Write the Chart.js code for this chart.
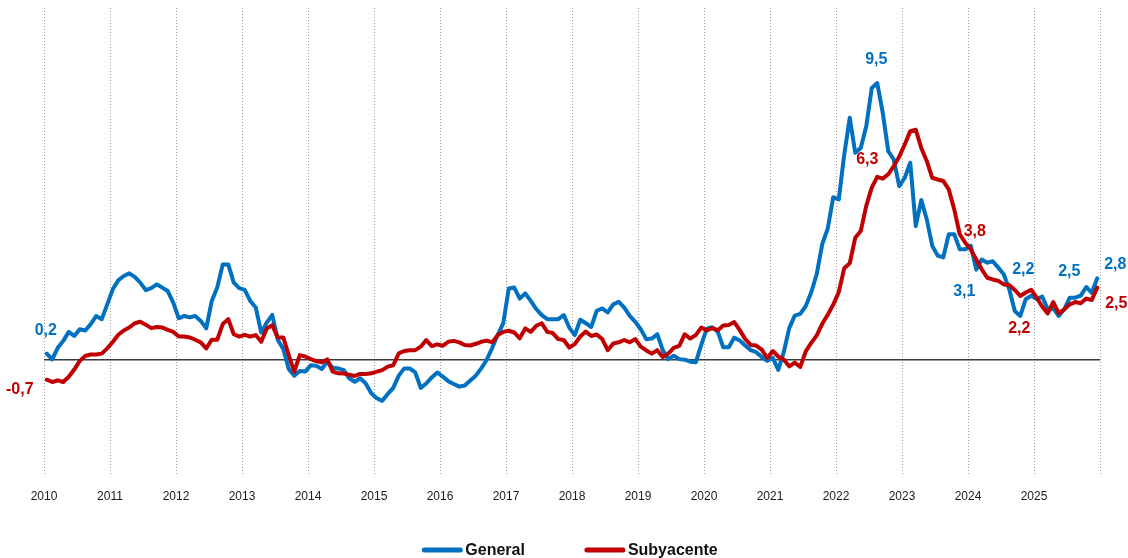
<!DOCTYPE html>
<html>
<head>
<meta charset="utf-8">
<script src="https://cdn.jsdelivr.net/npm/chart.js@4.4.1/dist/chart.umd.min.js"></script>
<style>
html,body{margin:0;padding:0;background:#ffffff;}
canvas{display:block;}
</style>
</head>
<body>
<canvas id="chart" width="1128" height="558"></canvas>
<script>
// ---- data ----
const yearTicks = [2010,2011,2012,2013,2014,2015,2016,2017,2018,2019,2020,2021,2022,2023,2024,2025];
const seriesNames = ['General', 'Subyacente'];

const generalValues = [
  0.2, 0.0, 0.4, 0.64, 0.95, 0.81, 1.04, 1.0, 1.22, 1.5, 1.39, 1.9,
  2.42, 2.73, 2.88, 2.97, 2.85, 2.65, 2.39, 2.46, 2.59, 2.48, 2.36, 1.96,
  1.42, 1.5, 1.45, 1.5, 1.33, 1.07, 2.02, 2.48, 3.28, 3.28, 2.65, 2.46,
  2.4, 2.02, 1.79, 0.93, 1.27, 1.54, 0.68, 0.36, -0.33, -0.56, -0.4, -0.42,
  -0.2, -0.22, -0.33, -0.08, -0.29, -0.31, -0.37, -0.65, -0.77, -0.65, -0.83, -1.17,
  -1.34, -1.43, -1.19, -0.98, -0.56, -0.31, -0.31, -0.45, -0.98, -0.83, -0.62, -0.45,
  -0.59, -0.75, -0.85, -0.94, -0.9, -0.73, -0.56, -0.31, -0.01, 0.4, 0.85, 1.25,
  2.45, 2.48, 2.1, 2.28, 2.02, 1.74, 1.53, 1.39, 1.39, 1.39, 1.53, 1.1,
  0.84, 1.37, 1.25, 1.12, 1.68, 1.76, 1.62, 1.9, 1.99, 1.79, 1.5, 1.3,
  1.04, 0.7, 0.72, 0.87, 0.32, 0.01, 0.13, 0.01, -0.01, -0.08, -0.1, 0.5,
  1.06, 1.11, 0.96, 0.42, 0.42, 0.75, 0.65, 0.48, 0.32, 0.25, 0.08, -0.05,
  0.06, -0.36, 0.25, 1.08, 1.51, 1.57, 1.84, 2.32, 2.95, 3.98, 4.52, 5.6,
  5.52, 7.07, 8.34, 7.13, 7.3, 8.05, 9.37, 9.54, 8.51, 7.19, 6.9, 5.98,
  6.27, 6.79, 4.6, 5.5, 4.84, 3.92, 3.58, 3.52, 4.32, 4.32, 3.8, 3.8,
  3.93, 3.1, 3.45, 3.34, 3.39, 3.17, 2.94, 2.42, 1.67, 1.5, 2.08, 2.2,
  2.08, 2.17, 1.73, 1.76, 1.5, 1.73, 2.13, 2.13, 2.2, 2.5, 2.3, 2.8
];

const coreValues = [
  -0.7, -0.78, -0.72, -0.78, -0.6, -0.35, -0.05, 0.12, 0.17, 0.17, 0.2, 0.38,
  0.6, 0.85, 1.0, 1.1, 1.25, 1.3, 1.2, 1.08, 1.12, 1.1, 1.02, 0.95,
  0.79, 0.79, 0.76, 0.68, 0.59, 0.38, 0.68, 0.68, 1.22, 1.39, 0.87, 0.79,
  0.85, 0.79, 0.84, 0.61, 1.07, 1.18, 0.76, 0.76, 0.15, -0.42, 0.15, 0.1,
  0.01, -0.06, -0.1, 0.0, -0.42, -0.48, -0.49, -0.53, -0.57, -0.5, -0.5, -0.48,
  -0.42, -0.37, -0.25, -0.2, 0.21, 0.29, 0.32, 0.32, 0.44, 0.67, 0.46, 0.52,
  0.47, 0.61, 0.64, 0.59, 0.5, 0.48, 0.54, 0.61, 0.65, 0.59, 0.84, 0.95,
  0.99, 0.93, 0.73, 1.07, 0.95, 1.16, 1.25, 0.95, 0.91, 0.7, 0.67, 0.41,
  0.53, 0.79, 0.96, 0.81, 0.86, 0.7, 0.32, 0.55, 0.59, 0.67, 0.59, 0.7,
  0.44, 0.31, 0.2, 0.32, 0.08, 0.2, 0.4, 0.47, 0.87, 0.72, 0.84, 1.1,
  1.0, 1.08, 1.01, 1.17, 1.19, 1.29, 1.01, 0.7, 0.5, 0.48, 0.34, 0.05,
  0.29, 0.1, 0.0, -0.24, -0.11, -0.26, 0.28, 0.57, 0.83, 1.23, 1.54, 1.89,
  2.32, 3.15, 3.32, 4.2, 4.43, 5.3, 5.93, 6.3, 6.24, 6.39, 6.67, 7.0,
  7.42, 7.88, 7.93, 7.3, 6.85, 6.27, 6.21, 6.16, 5.87, 5.18, 4.32, 4.03,
  3.8, 3.45, 3.11, 2.82, 2.76, 2.71, 2.59, 2.57, 2.4, 2.19, 2.31, 2.4,
  2.13, 1.82, 1.59, 1.98, 1.59, 1.73, 1.9, 1.98, 1.94, 2.1, 2.05, 2.48
];

// labelled points: which series and which month index
const labelSeries = [0, 1, 0, 1, 1, 0, 0, 1, 0, 0, 1];
const labelIndex  = [0, 0, 151, 151, 168, 169, 179, 177, 189, 191, 191];

// ---- build ----
const monthPositions = [];
yearTicks.forEach(y => { for (let m = 0; m < 12; m++) monthPositions.push(y + (m + 0.5) / 12); });
const toPoints = vals => vals.map((v, i) => ({ x: monthPositions[i], y: v }));

const BLUE = '#0070C0';
const RED = '#C00000';
const FONT = '"Liberation Sans", Arial, sans-serif';

const labelOffsets = [[-1,-23],[-27,10],[-1,-23],[-10,-17],[4,-18],[-12,22],[-8,-26],[-1,33],[-17,-15],[18,-14],[19,16]];

const pointLabels = {
  id: 'pointLabels',
  afterDatasetsDraw(chart) {
    const ctx = chart.ctx;
    ctx.save();
    ctx.font = 'bold 16px ' + FONT;
    ctx.textAlign = 'center';
    ctx.textBaseline = 'middle';
    labelSeries.forEach((s, k) => {
      const ds = chart.data.datasets[s];
      const el = chart.getDatasetMeta(s).data[labelIndex[k]];
      const v = ds.data[labelIndex[k]].y;
      ctx.fillStyle = ds.borderColor;
      ctx.fillText(v.toFixed(1).replace('.', ','), el.x + labelOffsets[k][0], el.y + labelOffsets[k][1]);
    });
    ctx.restore();
  }
};

const bottomLegend = {
  id: 'bottomLegend',
  afterDraw(chart) {
    const ctx = chart.ctx;
    const area = chart.chartArea;
    ctx.save();
    ctx.font = 'bold 16px ' + FONT;
    ctx.textBaseline = 'middle';
    const lineLen = 40, gap = 3, spacing = 60;
    const items = chart.data.datasets.map(ds => ({ text: ds.label, color: ds.borderColor, w: ctx.measureText(ds.label).width }));
    const total = items.reduce((s, it) => s + lineLen + gap + it.w, 0) + spacing * (items.length - 1);
    let x = (area.left + area.right) / 2 - total / 2 - 2;
    const y = chart.height - 8;
    items.forEach(it => {
      ctx.strokeStyle = it.color;
      ctx.lineWidth = 5;
      ctx.lineCap = 'round';
      ctx.beginPath();
      ctx.moveTo(x + 2, y);
      ctx.lineTo(x + lineLen - 2, y);
      ctx.stroke();
      ctx.fillStyle = '#111111';
      ctx.fillText(it.text, x + lineLen + gap, y + 1);
      x += lineLen + gap + it.w + spacing;
    });
    ctx.restore();
  }
};

new Chart(document.getElementById('chart'), {
  type: 'line',
  data: {
    datasets: [
      { label: seriesNames[0], data: toPoints(generalValues), borderColor: BLUE, backgroundColor: BLUE,
        borderWidth: 4, pointRadius: 0, tension: 0, borderJoinStyle: 'round', borderCapStyle: 'round', order: 2, clip: false },
      { label: seriesNames[1], data: toPoints(coreValues), borderColor: RED, backgroundColor: RED,
        borderWidth: 4, pointRadius: 0, tension: 0, borderJoinStyle: 'round', borderCapStyle: 'round', order: 1, clip: false }
    ]
  },
  options: {
    responsive: false,
    animation: false,
    devicePixelRatio: 1,
    layout: { padding: { left: 44, right: 28, top: 8, bottom: 40 } },
    plugins: { legend: { display: false }, tooltip: { enabled: false } },
    scales: {
      x: {
        type: 'linear', min: 2010, max: 2026,
        afterBuildTicks: axis => { axis.ticks = yearTicks.concat([2026]).map(v => ({ value: v })); },
        ticks: {
          autoSkip: false, maxRotation: 0, padding: 14, color: '#1a1a1a',
          font: { family: FONT, size: 12 },
          callback: v => (yearTicks.includes(v) ? String(v) : '')
        },
        grid: { color: '#9a9a9a', lineWidth: 1, drawTicks: false },
        border: { display: false, dash: [1, 2] }
      },
      y: {
        min: -4.01, max: 12.13,
        afterBuildTicks: axis => { axis.ticks = [{ value: 0 }]; },
        ticks: { display: false },
        grid: { color: '#3a3a3a', lineWidth: 1.5, drawTicks: false },
        border: { display: false }
      }
    }
  },
  plugins: [pointLabels, bottomLegend]
});
</script>
</body>
</html>
